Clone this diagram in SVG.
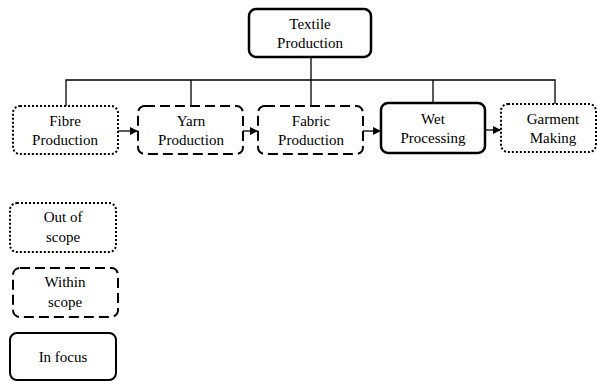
<svg xmlns="http://www.w3.org/2000/svg" width="597" height="381" viewBox="0 0 597 381">
  <style>
    .box { fill: #fff; stroke: #000; stroke-width: 2; }
    .solid { stroke-width: 2.5; }
    .dash { stroke-dasharray: 10 5; }
    .dot { stroke-dasharray: 2 2; }
    text { font-family: 'Liberation Serif', 'Times New Roman', Times, serif; font-size: 15px; fill: #000; text-anchor: middle; }
    .wire { fill: none; stroke: #000; stroke-width: 1.3; }
  </style>
  <defs>
    <marker id="arrow" markerWidth="8" markerHeight="8" refX="7" refY="4" orient="auto" markerUnits="userSpaceOnUse">
      <path d="M0,0 L8,4 L0,8 Z" fill="#000"/>
    </marker>
  </defs>

  <g id="connectors">
    <path class="wire" d="M311,57 V106 M66,106 V80 H555 V104 M191,80 V106 M433,80 V103"/>
    <path class="wire" d="M118,131 H137" marker-end="url(#arrow)"/>
    <path class="wire" d="M243,131 H257" marker-end="url(#arrow)"/>
    <path class="wire" d="M363,131 H380" marker-end="url(#arrow)"/>
    <path class="wire" d="M485,130 H500" marker-end="url(#arrow)"/>
  </g>

  <g id="textile">
    <rect class="box solid" x="249" y="9" width="122" height="48" rx="7"/>
    <text x="310" y="29">Textile</text>
    <text x="310" y="48">Production</text>
  </g>

  <g id="fibre">
    <rect class="box dot" x="13" y="106" width="105" height="48" rx="7"/>
    <text x="65" y="126">Fibre</text>
    <text x="65" y="145">Production</text>
  </g>

  <g id="yarn">
    <rect class="box dash" x="138" y="106" width="105" height="48" rx="7"/>
    <text x="191" y="126">Yarn</text>
    <text x="191" y="145">Production</text>
  </g>

  <g id="fabric">
    <rect class="box dash" x="258" y="106" width="105" height="48" rx="7"/>
    <text x="311" y="126">Fabric</text>
    <text x="311" y="145">Production</text>
  </g>

  <g id="wet">
    <rect class="box solid" x="381" y="103" width="104" height="50" rx="7"/>
    <text x="433" y="124">Wet</text>
    <text x="433" y="143">Processing</text>
  </g>

  <g id="garment">
    <rect class="box dot" x="501" y="104" width="95" height="48" rx="7"/>
    <text x="553" y="124">Garment</text>
    <text x="553" y="143">Making</text>
  </g>

  <g id="legend-out">
    <rect class="box dot" x="10" y="203" width="106" height="49" rx="7"/>
    <text x="63" y="222">Out of</text>
    <text x="63" y="242">scope</text>
  </g>

  <g id="legend-within">
    <rect class="box dash" x="13" y="268" width="105" height="49" rx="7"/>
    <text x="65" y="287">Within</text>
    <text x="65" y="307">scope</text>
  </g>

  <g id="legend-focus">
    <rect class="box" x="10" y="333" width="106" height="47" rx="7"/>
    <text x="63" y="362">In focus</text>
  </g>
</svg>
